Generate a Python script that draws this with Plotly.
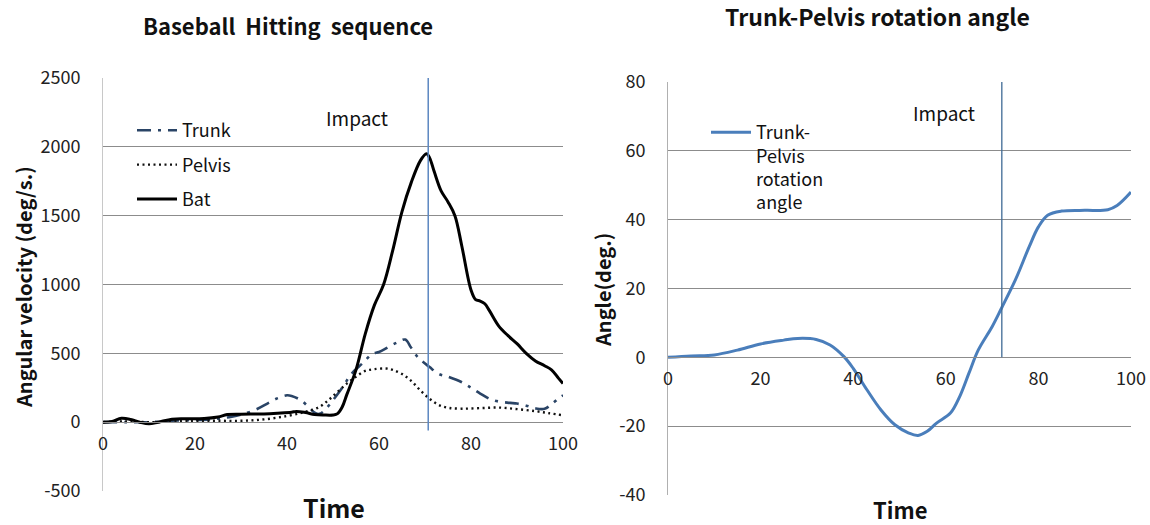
import plotly.graph_objects as go

# ---------------- data ----------------
bat_t = [0, 2, 4, 6, 8, 10, 12, 15, 18, 22, 25, 27, 30, 35, 38, 41, 42, 44, 46, 48, 50, 51, 52, 53, 55, 57, 59, 61, 63, 65, 67, 69, 70.3, 71, 72, 73.5, 75, 76.5, 78, 80, 81, 82, 83, 84, 86, 88, 90, 92, 94, 96, 97.5, 99, 100]
bat_v = [0, 5, 28, 20, 0, -12, 0, 22, 25, 27, 38, 55, 58, 60, 65, 72, 78, 70, 56, 52, 52, 62, 110, 200, 380, 640, 850, 1000, 1250, 1530, 1740, 1900, 1950, 1920, 1820, 1680, 1600, 1500, 1280, 960, 890, 880, 860, 810, 700, 630, 570, 500, 445, 410, 380, 320, 280]

trunk_t = [0, 5, 10, 15, 20, 25, 28, 30, 33, 36, 38, 40, 41, 43, 45, 46, 47, 48, 50, 52, 54, 56.5, 58.5, 60, 62, 64, 65.7, 67, 68.5, 71, 73, 75, 78, 80, 82, 84, 86, 88.5, 90, 92, 94, 96, 97.5, 99.3, 100]
trunk_v = [0, 0, 0, 10, 15, 25, 40, 55, 88, 140, 175, 195, 190, 160, 100, 70, 60, 80, 160, 250, 350, 430, 495, 510, 545, 580, 600, 540, 470, 400, 350, 330, 290, 250, 208, 170, 150, 140, 135, 120, 100, 97, 130, 180, 195]

pelvis_t = [0, 5, 10, 15, 20, 25, 30, 35, 40, 44, 47, 49, 51, 53, 55, 57, 59, 61.5, 63, 65, 67, 69, 71, 73, 75, 78, 82, 86, 90, 94, 97, 100]
pelvis_v = [0, 5, 0, 5, 10, 10, 10, 20, 45, 75, 110, 160, 220, 280, 330, 372, 385, 390, 380, 350, 300, 230, 170, 125, 105, 98, 102, 106, 95, 80, 65, 50]

angle_t = [0, 5, 10, 15, 20, 25, 28, 32, 35, 38, 40, 43, 46, 49, 52, 54, 56, 58, 61, 63, 65, 67, 70, 72, 75, 78, 80, 82, 85, 90, 95, 97, 100]
angle_v = [0, 0.4, 0.7, 2.1, 3.9, 5.0, 5.5, 5.2, 3.6, 0.2, -3.2, -9.5, -15.3, -19.6, -22.0, -22.7, -21.5, -19.1, -16.2, -11.4, -4.6, 2.1, 8.9, 14.2, 22.4, 32.1, 37.9, 41.3, 42.5, 42.7, 42.9, 44.1, 48.0]

impact_left = 70.7
impact_right = 72.1

left_yticks = [-500, 0, 500, 1000, 1500, 2000, 2500]
left_ytext = ["-500", "0", "500", "1000", "1500", "2000", "2500"]
right_yticks = [-40, -20, 0, 20, 40, 60, 80]
right_ytext = ["-40", "-20", "0", "20", "40", "60", "80"]
xticks = [0, 20, 40, 60, 80, 100]

# ---------------- figure ----------------
W, H = 1150, 525
FONT = "Noto Sans CJK KR"
GRID = "#8c8c8c"


def px_x(p):
    return p / W


def px_y(p):
    return 1 - p / H


fig = go.Figure()

fig.add_trace(go.Scatter(x=trunk_t, y=trunk_v, name="Trunk", mode="lines",
                         line=dict(color="#2a4466", width=2.6, dash="14px,7px,3px,7px", shape="spline"),
                         xaxis="x", yaxis="y", legend="legend", legendgroup="a"))
fig.add_trace(go.Scatter(x=pelvis_t, y=pelvis_v, name="Pelvis", mode="lines",
                         line=dict(color="#111111", width=2.4, dash="2px,3.5px", shape="spline"),
                         xaxis="x", yaxis="y", legend="legend", legendgroup="b"))
fig.add_trace(go.Scatter(x=bat_t, y=bat_v, name="Bat", mode="lines",
                         line=dict(color="#000000", width=3, shape="spline"),
                         xaxis="x", yaxis="y", legend="legend", legendgroup="c"))

fig.add_trace(go.Scatter(x=angle_t, y=angle_v, name="Trunk-<br>Pelvis<br>rotation<br>angle", mode="lines",
                         line=dict(color="#4a7ebb", width=3, shape="spline"),
                         xaxis="x2", yaxis="y2", legend="legend2"))

# impact lines
fig.add_shape(type="line", xref="x", yref="y", x0=impact_left, x1=impact_left, y0=-60, y1=2520,
              line=dict(color="#5b87c0", width=1.5))
fig.add_shape(type="line", xref="x2", yref="y2", x0=impact_right, x1=impact_right, y0=0, y1=80,
              line=dict(color="#3f6a96", width=1.3))

ld_x = [px_x(103), px_x(563)]
ld_y = [px_y(491), px_y(78)]
rd_x = [px_x(668), px_x(1131)]
rd_y = [px_y(495), px_y(82)]

tickfont = dict(family=FONT, size=18, color="#222222")

fig.update_layout(
    width=W, height=H,
    margin=dict(l=0, r=0, t=0, b=0),
    paper_bgcolor="white", plot_bgcolor="white",
    font=dict(family=FONT, color="#111111"),
    xaxis=dict(domain=ld_x, range=[0, 100], tickvals=xticks, anchor="free",
               position=px_y(422), showgrid=False, zeroline=False, showline=True,
               linecolor=GRID, linewidth=1, ticks="", tickfont=tickfont,
               automargin=False, ticklabelstandoff=5),
    yaxis=dict(domain=ld_y, range=[-500, 2500], tickvals=left_yticks, ticktext=left_ytext,
               anchor="x", showgrid=True, gridcolor=GRID, gridwidth=1, zeroline=False,
               showline=True, linecolor="#c8c8c8", linewidth=1, ticks="",
               tickfont=tickfont, ticklabelstandoff=18, automargin=False),
    xaxis2=dict(domain=rd_x, range=[0, 100], tickvals=xticks, anchor="free",
                position=px_y(357), showgrid=False, zeroline=False, showline=True,
                linecolor=GRID, linewidth=1, ticks="", tickfont=tickfont,
                automargin=False, ticklabelstandoff=5),
    yaxis2=dict(domain=rd_y, range=[-40, 80], tickvals=right_yticks, ticktext=right_ytext,
                anchor="x2", showgrid=True, gridcolor=GRID, gridwidth=1, zeroline=False,
                showline=True, linecolor="#b0b0b0", linewidth=1, ticks="",
                tickfont=tickfont, ticklabelstandoff=18, automargin=False),
    legend=dict(x=px_x(132), y=px_y(112), xanchor="left", yanchor="top",
                bgcolor="rgba(0,0,0,0)", font=dict(family=FONT, size=18, color="#111111"),
                tracegroupgap=8, itemwidth=40),
    legend2=dict(x=px_x(706), y=px_y(114), xanchor="left", yanchor="top", valign="top",
                 bgcolor="rgba(0,0,0,0)", font=dict(family=FONT, size=18, color="#111111"),
                 itemwidth=40),
    showlegend=True,
)


def label(text, x, y, size, angle=0, bold=False):
    return dict(text=(f"<b>{text}</b>" if bold else text), x=px_x(x), y=px_y(y),
                xref="paper", yref="paper", xanchor="center", yanchor="middle",
                showarrow=False, textangle=angle, borderpad=0,
                font=dict(family=FONT, size=size, color="#111111"))


ann = [
    label("Baseball  Hitting  sequence", 288, 25, 22, bold=True),
    label("Trunk-Pelvis rotation angle", 877, 16, 23, bold=True),
    label("Time", 334, 507, 25, bold=True),
    label("Time", 900, 509, 22, bold=True),
    label("Angular velocity (deg/s.)", 23, 287, 20, angle=-90, bold=True),
    label("Angle(deg.)", 602, 290, 20, angle=-90, bold=True),
    label("Impact", 357, 117, 19),
    label("Impact", 944, 112, 19),
]
fig.update_layout(annotations=ann)

# remove the browser's default 8px body margin so the figure fills the window exactly
fig.write_html("out.html", config={"displayModeBar": False},
               post_script="document.body.style.margin='0px';document.body.style.overflow='hidden';")
